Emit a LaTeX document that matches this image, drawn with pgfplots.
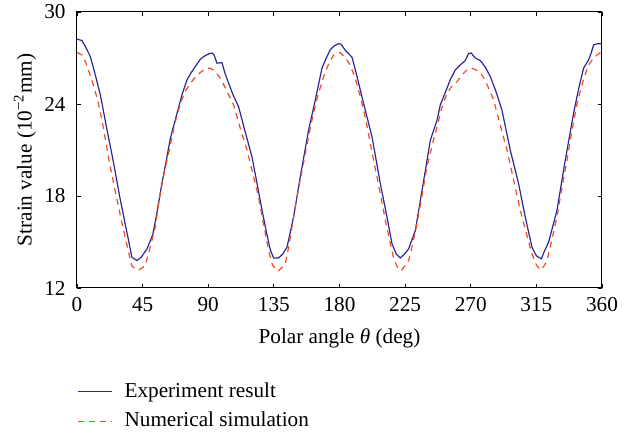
\documentclass[border=0pt]{standalone}
\usepackage{pgfplots}
\pgfplotsset{compat=1.18}
\usepackage{fontspec}
\setmainfont{Liberation Serif}
\definecolor{expblue}{RGB}{40,40,150}
\definecolor{simred}{RGB}{240,75,35}
\begin{document}
\fontsize{10.6}{12.5}\selectfont
\begin{tikzpicture}
\useasboundingbox (-38.5pt,-72pt) rectangle (277.5pt,144pt);
\begin{axis}[
  width=262.5pt, height=138pt, scale only axis,
  xmin=0, xmax=360, ymin=12, ymax=30,
  xtick={0,45,90,135,180,225,270,315,360},
  ytick={12,18,24,30},
  tick align=inside, major tick length=2pt,
  tick style={black, line width=0.4pt},
  axis line style={black, line width=0.5pt},
  /pgf/number format/assume math mode=true,
  ticklabel style={font=\fontsize{10.6}{12.5}\selectfont},
  xticklabel style={yshift=-1pt},
  yticklabel style={xshift=-2pt},
  xlabel={Polar angle \textit{θ} (deg)},
  ylabel={Strain value (10\textsuperscript{−2}mm)},
  label style={font=\fontsize{10.6}{12.5}\selectfont},
  xlabel style={at={(axis description cs:0.5,0)}, anchor=center, yshift=-25pt},
  ylabel style={at={(axis description cs:-0.099,0.5)}, anchor=center},
  legend style={at={(axis description cs:0,0)}, anchor=north west, xshift=-3pt, yshift=-43pt,
    draw=none, fill=none, row sep=2pt, font=\fontsize{10.6}{12.5}\selectfont},
  legend cell align=left,
  legend image code/.code={\draw[#1] (0pt,0pt) -- (17pt,0pt); \path (21pt,0pt);},
]
\addplot[expblue, line width=0.6pt] coordinates {
(0,28.23) (3.4,28.14) (6,27.7) (9.1,27.1) (12,26.1) (16,24.6) (20,22.6) (25,20.2)
(29.2,18.0) (33,16.2) (37.7,14.0) (41.1,13.79) (44,14.0) (48,14.55) (52,15.5) (55,17.0)
(58,18.7) (61,20.2) (64,21.75) (68.6,23.4) (72,24.6) (75.4,25.57) (78,26.0) (81.1,26.44)
(84.6,26.92) (87,27.1) (90.3,27.27) (92.6,27.32) (94,27.2) (96,26.66) (99.4,26.7) (101.5,26.0)
(104,25.35) (107,24.6) (110.8,23.82) (115,22.3) (120,20.55) (123.5,18.8) (126.9,17.06) (130,15.6)
(132.5,14.5) (134.8,13.96) (138.2,13.96) (141,14.2) (144,14.66) (148.5,16.62) (153.1,19.24) (158.8,22.3)
(163.4,24.26) (168,26.34) (170.5,26.9) (173.7,27.55) (176.5,27.8) (179.4,27.93) (181,27.9) (184,27.5)
(188.6,27.05) (192,25.8) (196.5,24.04) (202.3,21.86) (208,18.81) (212.6,16.62) (216,14.88) (219,14.2)
(221.7,13.96) (224.5,14.2) (227.4,14.55) (232,15.75) (236.6,18.37) (242.3,21.64) (246.9,22.95) (249.1,23.93)
(253.7,25.03) (256,25.6) (259.4,26.22) (262.8,26.55) (266,26.8) (268.6,27.3) (270.4,27.32) (273,27.0)
(276.6,26.83) (280,26.4) (283.4,25.79) (287,24.9) (291.4,23.6) (297.1,20.99) (302.8,18.81) (307.4,16.62)
(312,14.66) (315,14.1) (318.4,13.9) (320.5,14.4) (323.4,14.99) (329.1,17.06) (334.8,20.33) (340.5,23.39)
(344,25.0) (347.4,26.34) (350.8,26.88) (352.5,27.3) (354.3,27.86) (357,27.93) (360,27.93)
};
\addlegendentry{Experiment result}
\addplot[simred, line width=0.6pt, dash pattern=on 3pt off 2.5pt] coordinates {
(0,27.36) (3.4,27.2) (6,26.7) (9,25.9) (12,25.0) (14.8,24.0) (18,22.5) (22,20.3)
(26.9,18.0) (30,16.6) (34,14.9) (37.5,13.46) (40,13.25) (42.3,13.18) (44.5,13.3) (46.8,13.46)
(50,14.6) (53.7,15.97) (56.7,18.0) (60,19.6) (64,21.3) (67,22.7) (70.8,24.0) (74,24.8)
(77.7,25.35) (82,25.85) (86.8,26.22) (90.3,26.34) (92,26.3) (95,26.1) (98.3,25.68) (102,25.0)
(107.4,23.93) (112,22.4) (116.6,20.99) (120.5,19.5) (124.5,17.93) (128,16.1) (131.4,14.44) (134,13.5)
(137.8,13.09) (140,13.3) (142.8,13.57) (145,14.6) (147.4,15.97) (150,17.5) (153.1,19.03) (157,21.0)
(161.1,22.95) (165,24.5) (169.1,25.79) (172.5,26.6) (176,27.2) (180.6,27.36) (184,27.0) (187.4,26.55)
(191,25.6) (194.3,24.48) (198,23.0) (201.1,21.43) (204.5,19.8) (208,18.15) (211.5,16.4) (214.9,14.88)
(217,14.0) (219.4,13.4) (222.4,13.13) (224.5,13.4) (227.4,13.79) (230,14.8) (233.1,16.19) (236.5,18.0)
(240,19.9) (243.5,21.3) (246.9,22.51) (250,23.7) (253.7,24.7) (256.5,25.1) (260.6,25.46) (264,25.9)
(267.4,26.22) (270.5,26.34) (274,26.2) (277.7,25.9) (281.5,25.2) (285.7,24.26) (290,22.7) (294.9,20.99)
(299.5,19.0) (304,17.06) (308,15.6) (312,14.23) (315,13.5) (317.7,13.18) (320,13.4) (322.3,13.79)
(325.5,15.1) (329.1,16.62) (332.5,18.5) (336,20.33) (339.5,22.3) (342.9,24.04) (347,25.5) (350.8,26.55)
(353.5,26.9) (356.6,27.2) (360,27.42)
};
\addlegendentry{Numerical simulation}
\end{axis}
\end{tikzpicture}
\end{document}
